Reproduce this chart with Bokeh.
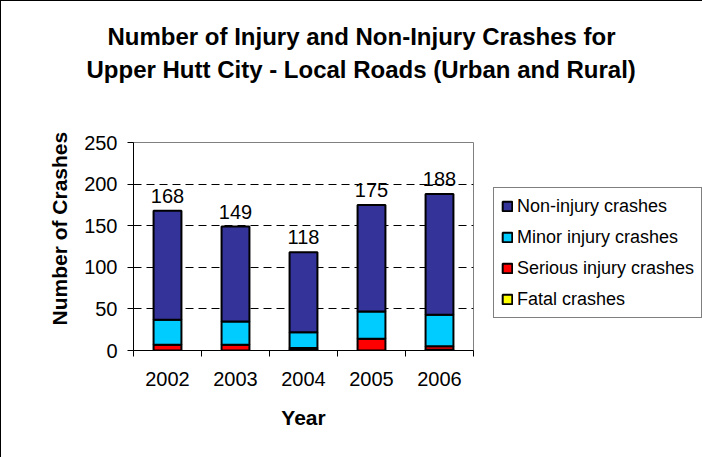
import math
from bokeh.plotting import figure
from bokeh.models import (ColumnDataSource, Range1d, FixedTicker, Legend, LegendItem, Title)
from bokeh.core.properties import value
from bokeh.embed import file_html
from bokeh.resources import INLINE

years = ["2002", "2003", "2004", "2005", "2006"]
fatal = [0, 0, 1, 0, 1]
serious = [7, 7, 2, 14, 4]
minor = [30, 28, 19, 33, 38]
non_injury = [131, 114, 96, 128, 145]
series = ["fatal", "serious", "minor", "non_injury"]
series_names = ["Fatal crashes", "Serious injury crashes", "Minor injury crashes", "Non-injury crashes"]
colors = ["#FFFF00", "#FF0000", "#00CCFF", "#333399"]
y_ticks = [0, 50, 100, 150, 200, 250]

FONT = "Liberation Sans"

xs = [i + 0.5 for i in range(len(years))]
totals = [a + b + c + d for a, b, c, d in zip(fatal, serious, minor, non_injury)]
source = ColumnDataSource(dict(x=xs, year=years, fatal=fatal, serious=serious,
                               minor=minor, non_injury=non_injury, total=totals,
                               total_txt=[str(t) for t in totals]))

p = figure(frame_width=340, frame_height=208, x_range=Range1d(0, len(years)), y_range=Range1d(0, 250),
           output_backend="svg", toolbar_location=None, title=None,
           min_border_left=132, min_border_right=229, min_border_top=141, min_border_bottom=107,
           styles={"border-left": "1px solid black", "border-top": "1px solid black"})
p.background_fill_color = "white"
p.border_fill_color = "white"
p.outline_line_color = "#808080"
p.outline_line_width = 1

renderers = p.vbar_stack(series, x="x", width=0.41, source=source, color=colors,
                         line_color="black", line_width=2)

p.text(x="x", y="total", text="total_txt", source=source, text_align="center",
       text_baseline="bottom", y_offset=-8, text_font=value(FONT),
       text_font_size="20px", text_color="black")

# x axis
xa = p.xaxis[0]
xa.ticker = FixedTicker(ticks=xs, minor_ticks=list(range(len(years) + 1)))
xa.major_label_overrides = {x: y for x, y in zip(xs, years)}
xa.major_tick_out = 0
xa.major_tick_in = 0
xa.minor_tick_out = 6
xa.minor_tick_in = 0
xa.minor_tick_line_color = "black"
xa.axis_line_color = "black"
xa.major_label_text_font = FONT
xa.major_label_text_font_size = "20px"
xa.major_label_text_color = "black"
xa.major_label_standoff = 15
xa.axis_label = "Year"
xa.axis_label_text_font = FONT
xa.axis_label_text_font_size = "21px"
xa.axis_label_text_font_style = "bold"
xa.axis_label_text_color = "black"
xa.axis_label_standoff = 17

# y axis
ya = p.yaxis[0]
ya.ticker = FixedTicker(ticks=y_ticks)
ya.major_tick_out = 6
ya.major_tick_in = 0
ya.minor_tick_line_color = None
ya.axis_line_color = "black"
ya.major_tick_line_color = "black"
ya.major_label_text_font = FONT
ya.major_label_text_font_size = "20px"
ya.major_label_text_color = "black"
ya.major_label_standoff = 10

p.xgrid.grid_line_color = None
p.ygrid.ticker = FixedTicker(ticks=y_ticks[1:-1])
p.ygrid.grid_line_color = "black"
p.ygrid.grid_line_dash = "8 5"
p.ygrid.grid_line_width = 1

# y axis title (as a side title so it can be shifted)
p.add_layout(Title(text="Number of Crashes", align="left", offset=25, standoff=21,
                   text_font=FONT, text_font_size="21px", text_font_style="bold",
                   text_color="black"), "left")

# chart title (two lines); a white spacer keeps them away from the plot area
p.add_layout(Title(text=".", text_font_size="10px", standoff=50, text_color="white"), "above")
p.add_layout(Title(text="Upper Hutt City - Local Roads (Urban and Rural)", align="left",
                   offset=-47, standoff=0, text_font=FONT, text_font_size="24px",
                   text_font_style="bold", text_color="black"), "above")
p.add_layout(Title(text="Number of Injury and Non-Injury Crashes for", align="left",
                   offset=-26, standoff=7, text_font=FONT, text_font_size="24px",
                   text_font_style="bold", text_color="black"), "above")

items = [LegendItem(label=series_names[i], renderers=[renderers[i]]) for i in range(3, -1, -1)]
legend = Legend(items=items, location=(20, 32), glyph_width=12, glyph_height=12,
                label_text_font=FONT, label_text_font_size="18px", label_text_color="black",
                label_standoff=4, label_height=22, spacing=9, padding=7, margin=0,
                border_line_color="black", border_line_width=1, background_fill_color="white",
                background_fill_alpha=1)
p.add_layout(legend, "right")

open("out.html", "w").write(file_html(p, INLINE))
